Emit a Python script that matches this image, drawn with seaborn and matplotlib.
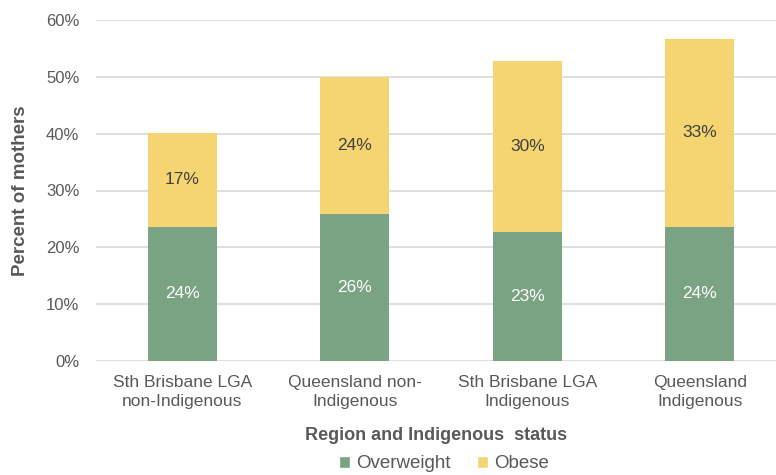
import matplotlib
matplotlib.use("Agg")
import matplotlib.pyplot as plt
import seaborn as sns
import pandas as pd
from matplotlib.patches import Patch

categories = ["Sth Brisbane LGA\nnon-Indigenous", "Queensland non-\nIndigenous",
              "Sth Brisbane LGA\nIndigenous", "Queensland\nIndigenous"]
overweight = [23.6, 25.8, 22.7, 23.6]
obese = [16.6, 24.2, 30.1, 33.1]
y_ticks = [0, 10, 20, 30, 40, 50, 60]

green = "#79A383"
yellow = "#F5D472"
text_grey = "#595959"

sns.set_theme(style="white")
plt.rcParams["font.family"] = ["Liberation Sans", "DejaVu Sans"]

df = pd.DataFrame({"category": categories, "Overweight": overweight, "Obese": obese})
df["Total"] = df["Overweight"] + df["Obese"]

fig = plt.figure(figsize=(7.76, 4.75), dpi=100)
ax = fig.add_axes([96 / 776, 1 - 361 / 475, 680 / 776, 341 / 475])

ax.yaxis.grid(True, color="#D9D9D9", linewidth=1.2, zorder=0)
ax.set_axisbelow(True)

sns.barplot(data=df, x="category", y="Total", color=yellow, width=0.4,
            saturation=1, linewidth=0, ax=ax, zorder=2)
sns.barplot(data=df, x="category", y="Overweight", color=green, width=0.4,
            saturation=1, linewidth=0, ax=ax, zorder=3)

for i, (ow, ob) in enumerate(zip(overweight, obese)):
    ax.text(i, ow / 2, f"{round(ow):.0f}%", ha="center", va="center",
            color="white", fontsize=12.5, zorder=4)
    ax.text(i, ow + ob / 2, f"{round(ob):.0f}%", ha="center", va="center",
            color="#404040", fontsize=12.5, zorder=4)

ax.set_ylim(0, 60)
ax.set_xlim(-0.5, -0.5 + 680 / 172.5)
ax.set_yticks(y_ticks)
ax.set_yticklabels([f"{t}%" for t in y_ticks])
ax.tick_params(axis="both", length=0, labelcolor=text_grey)
ax.tick_params(axis="y", pad=12, labelsize=12)
ax.tick_params(axis="x", pad=10, labelsize=12.5)
for lbl in ax.get_xticklabels():
    lbl.set_linespacing(1.35)
for s in ax.spines.values():
    s.set_visible(False)

ax.set_xlabel("Region and Indigenous  status", fontsize=13, fontweight="bold",
              color=text_grey, labelpad=13)
ax.set_ylabel("Percent of mothers", fontsize=13.5, fontweight="bold",
              color=text_grey, labelpad=12)

handles = [Patch(facecolor=green, label="Overweight"),
           Patch(facecolor=yellow, label="Obese")]
fig.legend(handles=handles, loc="lower center", bbox_to_anchor=(0.572, -0.03),
           ncol=2, frameon=False, fontsize=13.5, handlelength=0.6,
           handleheight=0.6, handletextpad=0.3, columnspacing=1.4,
           labelcolor=text_grey)

fig.savefig("out.png", dpi=100)
